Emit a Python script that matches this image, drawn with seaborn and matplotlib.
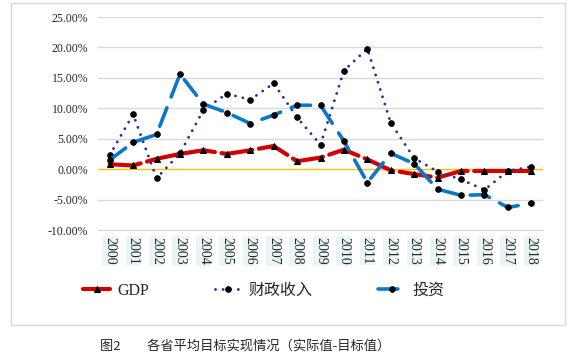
import pandas as pd
import matplotlib
matplotlib.use("Agg")
import matplotlib.pyplot as plt
import matplotlib.patches as mpatches
from matplotlib.ticker import FuncFormatter
import seaborn as sns

years = list(range(2000, 2019))
gdp = [0.8, 0.6, 1.7, 2.5, 3.1, 2.5, 3.1, 3.8, 1.3, 1.9, 3.2, 1.6, -0.2, -0.8, -1.4, -0.3, -0.3, -0.3, -0.3]
fiscal = [2.3, 9.0, -1.5, 2.6, 9.7, 12.4, 11.4, 14.1, 8.5, 4.0, 16.2, 19.8, 7.6, 1.8, -0.4, -1.7, -3.4, -0.3, 0.4]
invest = [1.5, 4.4, 5.7, 15.6, 10.7, 9.3, 7.5, 8.9, 10.5, 10.5, 4.6, -2.2, 2.6, 0.9, -3.3, -4.3, -4.2, -6.3, -5.6]
labels = ["GDP", "财政收入", "投资"]
caption = "图2\u3000\u3000各省平均目标实现情况（实际值-目标值）"

df = pd.DataFrame({"year": years, "GDP": gdp, "财政收入": fiscal, "投资": invest})

sns.set_style("white")
plt.rcParams["font.family"] = "serif"
plt.rcParams["font.serif"] = ["Liberation Serif", "DejaVu Serif"]
cjk = ["Liberation Serif", "Noto Sans CJK SC", "DejaVu Sans"]

fig = plt.figure(figsize=(5.78, 3.57), dpi=100)
ax = fig.add_axes([98 / 578, 1 - 230 / 357, 445 / 578, 213 / 357])

# outer frame of the chart
fig.patches.append(mpatches.Rectangle((11 / 578, 1 - 325 / 357), 554 / 578, 322 / 357,
                                      transform=fig.transFigure, fill=False,
                                      edgecolor="#d9d9d9", linewidth=1))

for y in [-10, -5, 5, 10, 15, 20, 25]:
    ax.axhline(y, color="#d9d9d9", linewidth=1, zorder=0)
ax.axhline(0, color="#ffc000", linewidth=1, zorder=0.5)


def style_line(line, dashes, marker, ms):
    line.set_dashes(dashes)
    line.set_dash_capstyle("round")
    line.set_marker(marker)
    line.set_markersize(ms)
    line.set_markerfacecolor("black")
    line.set_markeredgecolor("black")


sns.lineplot(data=df, x="year", y="GDP", ax=ax, color="#d40000", linewidth=3,
             label=labels[0], zorder=2)
style_line(ax.lines[-1], (7.5, 1.6), "^", 4.5)

sns.lineplot(data=df, x="year", y="财政收入", ax=ax, color="#2e2e9a", linewidth=2.1,
             label=labels[1], zorder=3)
style_line(ax.lines[-1], (0.01, 2.6), "o", 4)

sns.lineplot(data=df, x="year", y="投资", ax=ax, color="#0a78c8", linewidth=2.6,
             label=labels[2], zorder=4)
style_line(ax.lines[-1], (5.5, 3.2), "o", 4)

ax.set_xlim(1999.5, 2018.5)
ax.set_ylim(-10, 25)
ax.set_yticks(range(-10, 30, 5))
ax.yaxis.set_major_formatter(FuncFormatter(lambda v, p: f"{v:.2f}%"))
ax.set_xticks(years)
ax.set_xticklabels([str(y) for y in years], rotation=-90, fontsize=10,
                   bbox=dict(facecolor="#eaf6f6", edgecolor="none", pad=0.8))
ax.tick_params(axis="y", labelsize=8.5, pad=7, length=0)
ax.tick_params(axis="x", pad=5, length=0)
ax.set_xlabel("")
ax.set_ylabel("")
for s in ["top", "right", "left"]:
    ax.spines[s].set_visible(False)
ax.spines["bottom"].set_color("#d9d9d9")
ax.spines["bottom"].set_zorder(0)

handles, _ = ax.get_legend_handles_labels()
ax.get_legend().remove()
fig.legend(handles, labels, loc="center left", bbox_to_anchor=(83 / 578, 1 - 291 / 357),
           ncol=3, frameon=False, prop={"family": cjk, "size": 11.5},
           handlelength=1.7, handletextpad=0.45, columnspacing=4.1,
           borderpad=0, borderaxespad=0)

fig.text(245 / 578, 1 - 346 / 357, caption, ha="center", va="center", fontsize=9.5,
         fontweight="medium", family=["Noto Sans CJK SC", "DejaVu Sans"])

fig.savefig("out.png", dpi=100)
